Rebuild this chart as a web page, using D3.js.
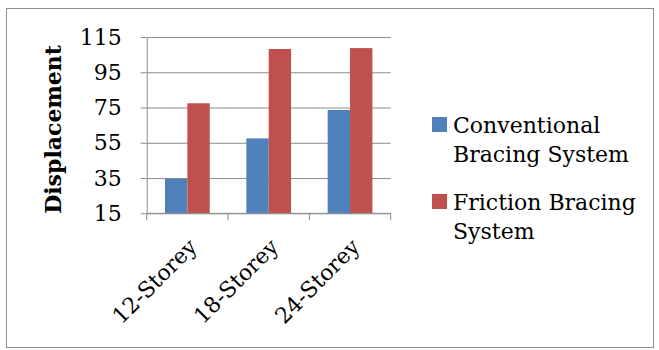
<!DOCTYPE html>
<html><head><meta charset="utf-8">
<script src="https://cdn.jsdelivr.net/npm/d3@7"></script>
<style>body{margin:0;background:#fff}svg{display:block}</style>
</head><body>
<script>
const categories = ["12-Storey", "18-Storey", "24-Storey"];
const seriesNames = ["Conventional Bracing System", "Friction Bracing System"];
const conventional = [34.5, 57.5, 73.6];
const friction = [77.4, 108.2, 108.7];
const yTicks = [15, 35, 55, 75, 95, 115];
const colors = ["#4F81BD", "#C0504D"];

(function () {
const W = 659, H = 350;
const font = "'DejaVu Serif', 'Liberation Serif', serif";
const fs = 22;
const svg = d3.select("body").append("svg").attr("width", W).attr("height", H);
svg.append("rect").attr("x", 6.5).attr("y", 8.5).attr("width", 647).attr("height", 339)
  .attr("fill", "#fff").attr("stroke", "#8c8c8c").attr("stroke-width", 1);

const pL = 146.7, pR = 390.7, pT = 37, pB = 213.3;
const x = d3.scaleBand().domain(categories).range([pL, pR]).paddingInner(0.45).paddingOuter(0.225);
const x1 = d3.scaleBand().domain(seriesNames).range([0, x.bandwidth()]);
const y = d3.scaleLinear().domain([15, 115]).range([pB, pT]);

const g = svg.append("g");
g.append("g").attr("transform", `translate(${pL},0)`)
  .call(d3.axisLeft(y).tickValues(yTicks).tickSize(-(pR - pL)).tickFormat(""))
  .call(s => s.select(".domain").remove())
  .call(s => s.selectAll("line").attr("stroke", "#8c8c8c"));
g.append("g").attr("transform", `translate(${pL},0)`)
  .call(d3.axisLeft(y).tickValues(yTicks).tickSize(6).tickPadding(19).tickSizeOuter(0))
  .call(s => s.select(".domain").attr("stroke", "#8c8c8c"))
  .call(s => s.selectAll("line").attr("stroke", "#8c8c8c"))
  .call(s => s.selectAll("text").attr("font-family", font).attr("font-size", fs).attr("fill", "#000"));

const data = categories.map((c, i) => ({c, vals: [conventional[i], friction[i]]}));
g.selectAll("g.grp").data(data).join("g").attr("class", "grp")
  .attr("transform", d => `translate(${x(d.c)},0)`)
  .selectAll("rect").data(d => d.vals.map((v, j) => ({v, s: seriesNames[j], j})))
  .join("rect")
  .attr("x", d => x1(d.s)).attr("width", x1.bandwidth())
  .attr("y", d => y(d.v)).attr("height", d => y(15) - y(d.v))
  .attr("fill", d => colors[d.j]);

const step = x.step();
const bounds = [pL, ...categories.map(c => x(c) - step * x.paddingInner() / 2 + step)];
g.append("line").attr("x1", pL).attr("x2", pR).attr("y1", pB).attr("y2", pB).attr("stroke", "#8c8c8c");
g.selectAll("line.xt").data(bounds).join("line").attr("class", "xt")
  .attr("x1", d => d).attr("x2", d => d).attr("y1", pB).attr("y2", pB + 7).attr("stroke", "#8c8c8c");
g.selectAll("text.xl").data(categories).join("text").attr("class", "xl")
  .attr("transform", d => `translate(${x(d) + x.bandwidth() / 2 + 11},${pB + 35}) rotate(-45)`)
  .attr("text-anchor", "end").attr("font-family", font).attr("font-size", fs).attr("fill", "#000")
  .text(d => d);

svg.append("text").attr("transform", `translate(61,129.5) rotate(-90)`)
  .attr("text-anchor", "middle").attr("font-family", font).attr("font-size", fs).attr("font-weight", "bold")
  .text("Displacement");

const legendLines = [["Conventional", "Bracing System"], ["Friction Bracing", "System"]];
const lg = svg.append("g");
legendLines.forEach((lines, i) => {
  const y0 = 133 + i * 77;
  lg.append("rect").attr("x", 432).attr("y", y0 - 16).attr("width", 15).attr("height", 15).attr("fill", colors[i]);
  lines.forEach((t, k) => {
    lg.append("text").attr("x", 453).attr("y", y0 + k * 29).attr("font-family", font).attr("font-size", fs).text(t);
  });
});
})();
</script>
</body></html>
